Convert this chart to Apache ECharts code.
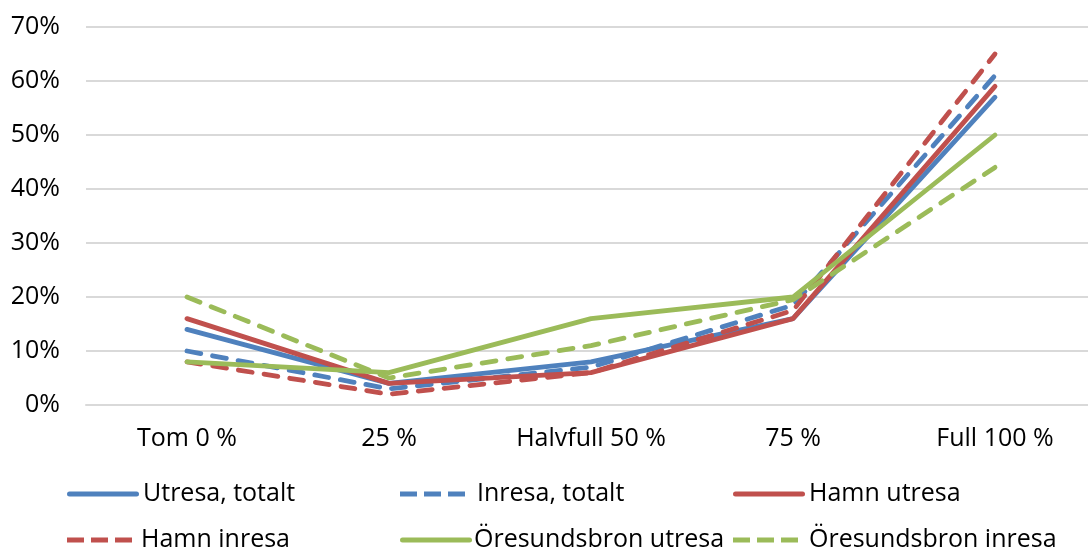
<!DOCTYPE html>
<html><head><meta charset="utf-8">
<script src="https://cdn.jsdelivr.net/npm/echarts@6/dist/echarts.min.js"></script>
<style>html,body{margin:0;padding:0;background:#fff}#c{width:1088px;height:549px}</style>
</head><body><div id="c"></div>
<script>
const categories = ['Tom 0 %', '25 %', 'Halvfull 50 %', '75 %', 'Full 100 %'];
const yTicks = [0, 10, 20, 30, 40, 50, 60, 70];
const utresaTotalt = [14, 4, 8, 16, 57];
const inresaTotalt = [10, 3, 7, 18.5, 61];
const hamnUtresa = [16, 4, 6, 16, 59];
const hamnInresa = [8, 2, 6, 17.5, 65];
const oresundUtresa = [8, 6, 16, 20, 50];
const oresundInresa = [20, 5, 11, 19.5, 44];

const BLUE = '#4F81BD', RED = '#C0504D', GREEN = '#9BBB59';
const FONT = 'Open Sans';
const FS = 25;
const chart = echarts.init(document.getElementById('c'), null, {renderer: 'canvas'});

function s(name, data, color, dashed) {
  return {
    name, type: 'line', data, symbol: 'none', showSymbol: false, smooth: false,
    lineStyle: {color, width: 4.8, type: dashed ? [14, 12] : 'solid', cap: 'round'},
    itemStyle: {color}
  };
}
const series = [
  s('Utresa, totalt', utresaTotalt, BLUE, false),
  s('Inresa, totalt', inresaTotalt, BLUE, true),
  s('Hamn utresa', hamnUtresa, RED, false),
  s('Hamn inresa', hamnInresa, RED, true),
  s('Öresundsbron utresa', oresundUtresa, GREEN, false),
  s('Öresundsbron inresa', oresundInresa, GREEN, true)
];
const SOLID_ICON = 'path://M2.5,0H69.5A2.5,2.5,0,0,1,69.5,5H2.5A2.5,2.5,0,0,1,2.5,0Z';
const DASH_ICON = 'path://M0,0H17V5H0ZM24,0H41V5H24ZM48,0H65V5H48Z';
// [left, top, textPad]
const legendPos = [[67, 479, -1], [400, 479, 7], [733, 479, -1], [67, 525, 4], [400, 525, -3], [733, 525, 6]];
const legends = series.map((sr, i) => {
  const dashed = i % 2 === 1;
  return {
    data: [sr.name], left: legendPos[i][0], top: legendPos[i][1],
    itemWidth: dashed ? 65 : 72, itemHeight: 5, itemGap: 0, padding: 0,
    icon: dashed ? DASH_ICON : SOLID_ICON,
    itemStyle: {color: sr.lineStyle.color},
    textStyle: {fontFamily: FONT, fontSize: FS, color: '#000', lineHeight: 30,
      padding: [0, 0, 0, legendPos[i][2]]}
  };
});

chart.setOption({
  animation: false,
  backgroundColor: '#fff',
  grid: {left: 86, width: 1010, top: 27, bottom: 144, containLabel: false, outerBoundsMode: 'none'},
  legend: legends,
  xAxis: {
    type: 'category', data: categories, boundaryGap: true,
    axisLine: {show: true, lineStyle: {color: '#D9D9D9', width: 2}},
    axisTick: {show: false},
    axisLabel: {fontFamily: FONT, fontSize: FS, color: '#000', margin: 21}
  },
  yAxis: {
    type: 'value', min: 0, max: 70, interval: 10,
    axisLine: {show: false}, axisTick: {show: false},
    splitLine: {lineStyle: {color: '#D9D9D9', width: 2}},
    axisLabel: {fontFamily: FONT, fontSize: FS, color: '#000', margin: 26,
      formatter: v => yTicks.includes(v) ? v + '%' : ''}
  },
  series
});
</script></body></html>
